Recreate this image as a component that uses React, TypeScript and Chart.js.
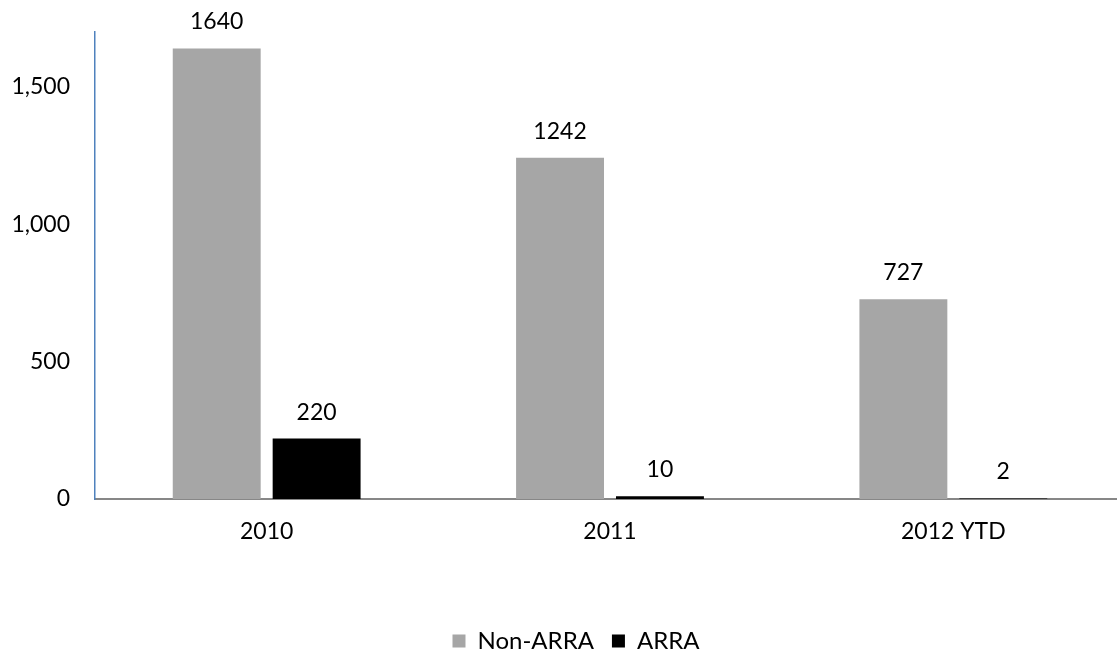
import React, { useEffect, useRef } from "react";
import { Chart, registerables } from "chart.js";

Chart.register(...registerables);

const categories = ["2010", "2011", "2012 YTD"];
const nonArraValues = [1640, 1242, 727];
const arraValues = [220, 10, 2];
const yTickValues = [0, 500, 1000, 1500];

const FONT = "Lato, 'Open Sans', sans-serif";

const valueLabels = {
  id: "valueLabels",
  afterDatasetsDraw(chart: any) {
    const ctx = chart.ctx;
    ctx.save();
    ctx.font = `23px ${FONT}`;
    ctx.fillStyle = "#000000";
    ctx.textAlign = "center";
    ctx.textBaseline = "alphabetic";
    chart.data.datasets.forEach((ds: any, di: number) => {
      const meta = chart.getDatasetMeta(di);
      meta.data.forEach((el: any, i: number) => {
        ctx.fillText(String(ds.data[i]), el.x, el.y - 19);
      });
    });
    ctx.restore();
  },
};

const legendShift = {
  id: "legendShift",
  afterLayout(chart: any) {
    if (chart.legend) {
      chart.legend.left += 13.5;
      chart.legend.right += 13.5;
    }
  },
};

export default function App() {
  const ref = useRef<HTMLCanvasElement | null>(null);
  useEffect(() => {
    if (!ref.current) return;
    const chart = new Chart(ref.current, {
      type: "bar",
      data: {
        labels: categories,
        datasets: [
          {
            label: "Non-ARRA",
            data: nonArraValues,
            backgroundColor: "#A6A6A6",
            categoryPercentage: 0.582,
            barPercentage: 0.88,
          },
          {
            label: "ARRA",
            data: arraValues,
            backgroundColor: "#000000",
            categoryPercentage: 0.582,
            barPercentage: 0.88,
          },
        ],
      },
      options: {
        responsive: false,
        animation: false,
        devicePixelRatio: 1,
        layout: { padding: { top: 32, right: 27, left: 0, bottom: 0 } },
        plugins: {
          tooltip: { enabled: false },
          legend: {
            position: "bottom",
            labels: {
              boxWidth: 13,
              boxHeight: 13,
              padding: 18,
              color: "#000000",
              font: { family: FONT, size: 24 },
            },
          },
        },
        scales: {
          x: {
            grid: { display: false },
            border: { display: true, color: "#878787", width: 2 },
            ticks: {
              color: "#000000",
              font: { family: FONT, size: 23 },
              padding: 11,
            },
            afterFit(scale: any) {
              scale.height = 112;
            },
          },
          y: {
            min: 0,
            max: 1700,
            grid: { display: false, drawTicks: false },
            border: { display: true, color: "#4F81BD", width: 1.5 },
            ticks: {
              stepSize: 500,
              padding: 25,
              color: "#000000",
              font: { family: FONT, size: 23 },
              callback: (v: any) => Number(v).toLocaleString("en-US"),
            },
            afterBuildTicks(scale: any) {
              scale.ticks = yTickValues.map((v) => ({ value: v }));
            },
            afterFit(scale: any) {
              scale.width = 95;
              scale.paddingTop = 0;
              scale.paddingBottom = 0;
            },
          },
        },
      },
      plugins: [valueLabels, legendShift],
    });
    return () => chart.destroy();
  }, []);
  return (
    <div
      style={{
        position: "fixed",
        left: 0,
        top: 0,
        width: 1117,
        height: 656,
        overflow: "hidden",
        background: "#ffffff",
      }}
    >
      <canvas ref={ref} width={1152} height={663} style={{ display: "block" }} />
    </div>
  );
}
